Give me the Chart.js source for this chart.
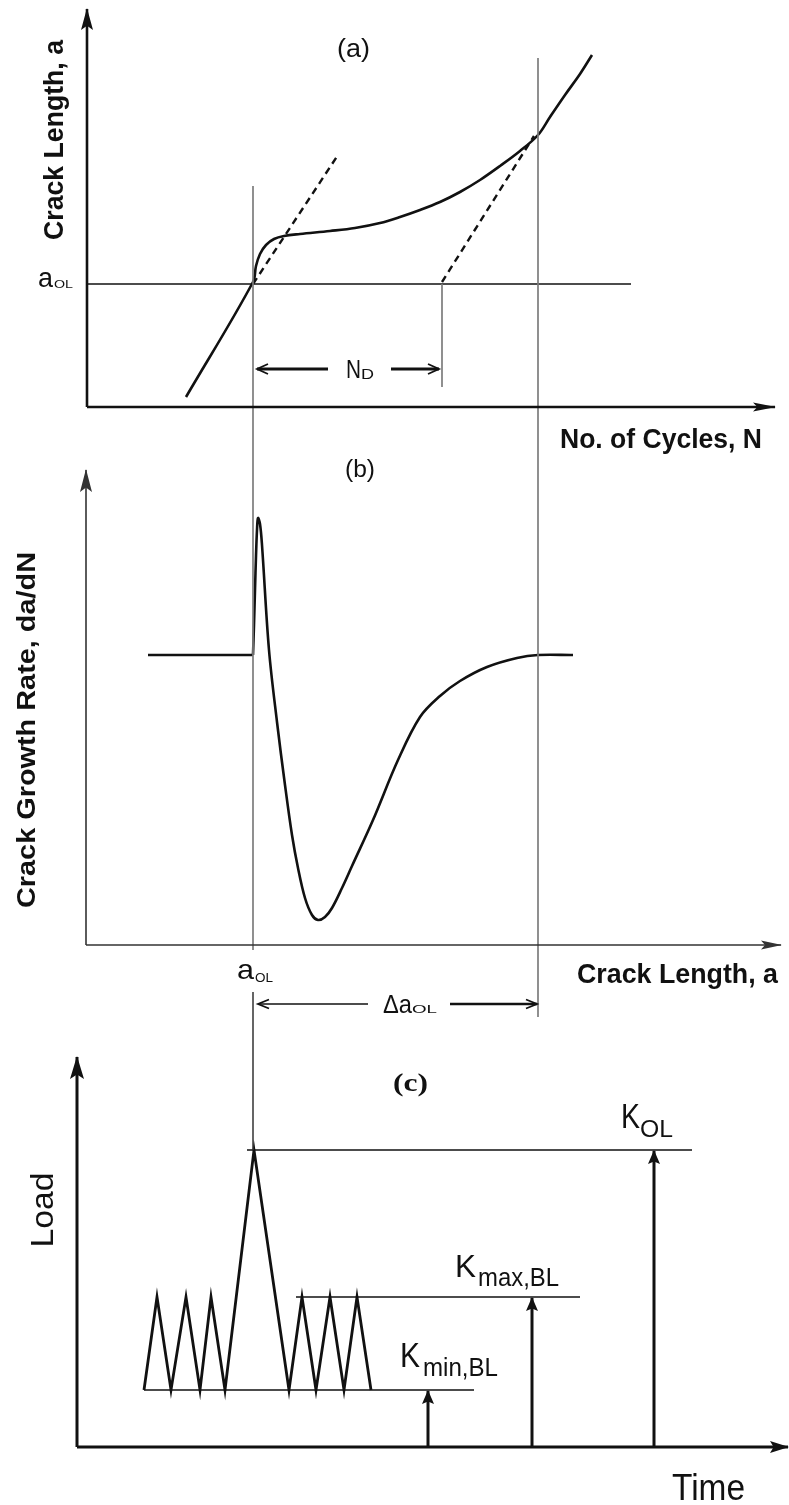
<!DOCTYPE html>
<html>
<head>
<meta charset="utf-8">
<script src="https://cdn.jsdelivr.net/npm/chart.js@4/dist/chart.umd.min.js"></script>
<style>
  html, body { margin: 0; padding: 0; background: #fff; }
  canvas { display: block; }
</style>
</head>
<body>
<canvas id="overload" width="789" height="1505"></canvas>
<script>
// all values are in figure units: x to the right, y downwards (y scale is reversed)

// (a) crack length vs. number of cycles
const growthN = [186, 253, 256, 260, 266, 274, 284, 300, 330, 355, 380, 400, 420, 440, 460, 480, 500, 520, 538, 550, 565, 580, 592];
const growthA = [397, 282, 266, 254, 245, 239, 236, 234, 231, 228, 223, 217, 210, 202, 192, 180, 166, 151, 135, 117, 95, 74, 55];
const tangentBeforeN = [253, 338];
const tangentBeforeA = [284, 155];
const tangentAfterN = [442, 534];
const tangentAfterA = [282, 136];
const aOL = 284;

// (b) growth rate vs. crack length
const baseRateA = [148, 253];
const baseRateY = [655, 655];
const rateA = [253, 254, 255, 256, 257, 258, 260, 262, 269, 277, 285, 292, 298, 305, 312, 318, 325, 332, 342, 352, 373, 398, 420, 440, 460, 487, 517, 538, 573];
const rateY = [655, 625, 590, 556, 530, 518, 524, 545, 650, 722, 785, 835, 868, 898, 915, 920, 917, 908, 888, 866, 820, 760, 717, 696, 681, 667, 658, 655, 655];

// (c) load history
const loadT = [144, 157, 171, 186, 200, 211, 225, 254, 289, 302, 316, 330, 344, 357, 371];
const loadK = [1390, 1297, 1390, 1297, 1390, 1297, 1390, 1150, 1390, 1297, 1390, 1297, 1390, 1297, 1390];
const kMinBL = 1390, kMaxBL = 1297, kOL = 1150;
const kMinSpan = [144, 474], kMaxSpan = [296, 580], kOLSpan = [247, 692];
const kArrowT = [428, 532, 654];
const kArrowTop = [kMinBL, kMaxBL, kOL];

const black = '#111';
const grey = '#7d7d7d';

function pts(xs, ys) {
  return xs.map((x, i) => ({ x: x, y: ys[i] }));
}
function line(xs, ys, opts) {
  return Object.assign({
    data: pts(xs, ys),
    showLine: true,
    pointRadius: 0,
    borderColor: black,
    borderWidth: 1.5,
    tension: 0,
    fill: false
  }, opts || {});
}

const datasets = [
  // axes of (a)
  line([87, 87], [407, 9], { borderWidth: 2.6, head: { len: 21, half: 6 } }),
  line([87, 775], [407, 407], { borderWidth: 2.6, head: { len: 22, half: 4.5 } }),
  // axes of (b)
  line([86, 86], [945, 470], { borderWidth: 1.6, borderColor: '#333', head: { len: 22, half: 6 } }),
  line([86, 781], [945, 945], { borderWidth: 1.6, borderColor: '#333', head: { len: 20, half: 4.5 } }),
  // axes of (c)
  line([77, 77], [1447, 1057], { borderWidth: 3, head: { len: 22, half: 7 } }),
  line([77, 788], [1447, 1447], { borderWidth: 3, head: { len: 18, half: 6 } }),

  // construction lines
  line([253, 253], [186, 950], { borderColor: grey, borderWidth: 1.7 }),
  line([253, 253], [992, kOL], { borderColor: '#333' }),
  line([538, 538], [58, 1017], { borderColor: grey, borderWidth: 1.7 }),
  line([442, 442], [aOL, 387], { borderColor: grey, borderWidth: 1.7 }),
  line([87, 631], [aOL, aOL], { borderWidth: 1.4 }),

  // N_D dimension
  line([328, 257], [369, 369], { borderWidth: 2.8, head: { len: 11, half: 5, open: true } }),
  line([391, 439], [369, 369], { borderWidth: 2.8, head: { len: 11, half: 5, open: true } }),
  // delta a_OL dimension
  line([368, 258], [1004, 1004], { borderWidth: 1.4, head: { len: 11, half: 4.5, open: true } }),
  line([450, 537], [1004, 1004], { borderWidth: 2.6, head: { len: 11, half: 4.5, open: true } }),

  // (a) curves
  line(growthN, growthA, { borderWidth: 2.6, tension: 0.35 }),
  line(tangentBeforeN, tangentBeforeA, { borderWidth: 2.4, borderDash: [7, 5] }),
  line(tangentAfterN, tangentAfterA, { borderWidth: 2.4, borderDash: [7, 5] }),

  // (b) curve
  line(baseRateA, baseRateY, { borderWidth: 2.6 }),
  line(rateA, rateY, { borderWidth: 2.6, tension: 0.35 }),

  // (c) load sequence and levels
  line(kMinSpan, [kMinBL, kMinBL], { borderWidth: 1.6 }),
  line(kMaxSpan, [kMaxBL, kMaxBL], { borderWidth: 1.6 }),
  line(kOLSpan, [kOL, kOL], { borderWidth: 1.6 }),
  line(loadT, loadK, { borderWidth: 2.8 }),
];
kArrowT.forEach((t, i) => {
  datasets.push(line([t, t], [1447, kArrowTop[i] + 1], { borderWidth: 3, head: { len: 13, half: 6 } }));
});

// text drawn on the figure; w = width the text is stretched to
const labels = [
  { text: '(a)', x: 337, y: 57, font: '26px "Liberation Sans", Arial', w: 33 },
  { text: 'Crack Length, a', x: 56, y: 140, font: 'bold 27px "Liberation Sans", Arial', w: 200, rot: true },
  { text: 'a', x: 38, y: 287, font: '27px "Liberation Sans", Arial', w: 15 },
  { text: 'OL', x: 54, y: 288, font: '11px "Liberation Sans", Arial', w: 19 },
  { text: 'N', x: 346, y: 378, font: '26px "Liberation Sans", Arial', w: 15 },
  { text: 'D', x: 361, y: 379, font: '15px "Liberation Sans", Arial', w: 13 },
  { text: 'No. of Cycles, N', x: 560, y: 448, font: 'bold 27px "Liberation Sans", Arial', w: 202 },

  { text: '(b)', x: 345, y: 477, font: '23px "Liberation Sans", Arial', w: 30 },
  { text: 'Crack Growth Rate, da/dN', x: 28, y: 730, font: 'bold 26px "Liberation Sans", Arial', w: 356, rot: true },
  { text: 'a', x: 237, y: 979, font: '28px "Liberation Sans", Arial', w: 17 },
  { text: 'OL', x: 255, y: 982, font: '13px "Liberation Sans", Arial', w: 18 },
  { text: 'Crack Length, a', x: 577, y: 983, font: 'bold 27px "Liberation Sans", Arial', w: 201 },
  { text: '\u0394a', x: 383, y: 1013, font: '26px "Liberation Sans", Arial', w: 29 },
  { text: 'OL', x: 412, y: 1013, font: '11px "Liberation Sans", Arial', w: 25 },

  { text: '(c)', x: 393, y: 1091, font: 'bold 26px "Liberation Serif", "Times New Roman"', w: 35 },
  { text: 'K', x: 621, y: 1128, font: '35px "Liberation Sans", Arial', w: 19 },
  { text: 'OL', x: 640, y: 1137, font: '24px "Liberation Sans", Arial', w: 33 },
  { text: 'K', x: 455, y: 1277, font: '31px "Liberation Sans", Arial', w: 21 },
  { text: 'max,BL', x: 478, y: 1286, font: '25px "Liberation Sans", Arial', w: 81 },
  { text: 'K', x: 400, y: 1367, font: '35px "Liberation Sans", Arial', w: 20 },
  { text: 'min,BL', x: 423, y: 1376, font: '26px "Liberation Sans", Arial', w: 75 },
  { text: 'Load', x: 44, y: 1210, font: '32px "Liberation Sans", Arial', w: 75, rot: true },
  { text: 'Time', x: 672, y: 1500, font: '37px "Liberation Sans", Arial', w: 73 },
];

const arrowHeads = {
  id: 'arrowHeads',
  afterDatasetsDraw(chart) {
    const ctx = chart.ctx;
    chart.data.datasets.forEach((ds, i) => {
      if (!ds.head) return;
      const els = chart.getDatasetMeta(i).data;
      const tip = els[els.length - 1], prev = els[els.length - 2];
      const ang = Math.atan2(tip.y - prev.y, tip.x - prev.x);
      const h = ds.head;
      ctx.save();
      ctx.translate(tip.x, tip.y);
      ctx.rotate(ang);
      ctx.strokeStyle = ds.borderColor;
      ctx.fillStyle = ds.borderColor;
      ctx.beginPath();
      if (h.open) {
        ctx.lineWidth = 1.8;
        ctx.moveTo(-h.len, -h.half);
        ctx.lineTo(0, 0);
        ctx.lineTo(-h.len, h.half);
        ctx.stroke();
      } else {
        ctx.moveTo(1, 0);
        ctx.lineTo(-h.len, -h.half);
        ctx.lineTo(-h.len * 0.8, 0);
        ctx.lineTo(-h.len, h.half);
        ctx.closePath();
        ctx.fill();
      }
      ctx.restore();
    });
  }
};

const figureText = {
  id: 'figureText',
  afterDraw(chart) {
    const ctx = chart.ctx;
    const xs = chart.scales.x, ys = chart.scales.y;
    labels.forEach(l => {
      const px = xs.getPixelForValue(l.x), py = ys.getPixelForValue(l.y);
      ctx.save();
      ctx.font = l.font;
      ctx.fillStyle = black;
      const natural = ctx.measureText(l.text).width;
      const sx = l.w / natural;
      ctx.translate(px, py);
      if (l.rot) {
        ctx.rotate(-Math.PI / 2);
        ctx.textAlign = 'center';
        ctx.textBaseline = 'middle';
      } else {
        ctx.textAlign = 'left';
        ctx.textBaseline = 'alphabetic';
      }
      ctx.scale(sx, 1);
      ctx.fillText(l.text, 0, 0);
      ctx.restore();
    });
  }
};

new Chart(document.getElementById('overload'), {
  type: 'scatter',
  data: { datasets: datasets },
  options: {
    responsive: false,
    animation: false,
    devicePixelRatio: 1,
    layout: { padding: 0 },
    plugins: { legend: { display: false }, tooltip: { enabled: false } },
    scales: {
      x: { type: 'linear', min: 0, max: 789, display: false },
      y: { type: 'linear', min: 0, max: 1505, reverse: true, display: false }
    }
  },
  plugins: [arrowHeads, figureText]
});
</script>
</body>
</html>
